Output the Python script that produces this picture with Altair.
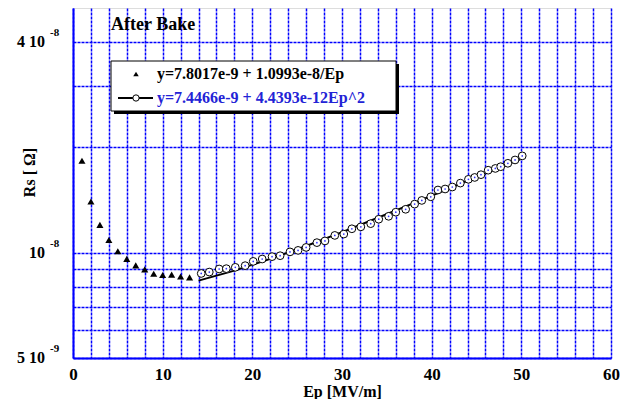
import altair as alt
import pandas as pd

# Measured points (triangles): Rs vs Ep
tri_x = [1, 2, 3, 4, 5, 6, 7, 8, 9, 10, 11, 12, 13]
tri_y = [1.83e-8, 1.40e-8, 1.20e-8, 1.087e-8, 1.009e-8, 9.6e-9, 9.2e-9,
         8.96e-9, 8.7e-9, 8.63e-9, 8.65e-9, 8.55e-9, 8.5e-9]

# Measured points (open circles)
circ_x = [14.3, 15.2, 16.3, 17.1, 18.1, 19.2, 20.1, 21.1, 22.2, 23.1,
          24.2, 25.1, 26.0, 27.2, 28.1, 29.2, 30.2, 31.1, 32.1, 33.2,
          34.1, 35.2, 36.0, 37.1, 38.1, 38.9, 39.9, 40.7, 41.5, 42.3,
          43.2, 44.1, 44.8, 45.5, 46.3, 47.1, 47.7, 48.5, 49.3, 50.1]
circ_y = [8.72e-9, 8.80e-9, 8.98e-9, 9.0e-9, 9.08e-9, 9.18e-9, 9.44e-9, 9.59e-9, 9.74e-9, 9.80e-9,
          1.005e-8, 1.015e-8, 1.035e-8, 1.068e-8, 1.08e-8, 1.12e-8, 1.13e-8, 1.17e-8, 1.185e-8, 1.21e-8,
          1.246e-8, 1.27e-8, 1.305e-8, 1.33e-8, 1.376e-8, 1.41e-8, 1.444e-8, 1.51e-8, 1.52e-8, 1.54e-8,
          1.58e-8, 1.62e-8, 1.64e-8, 1.67e-8, 1.72e-8, 1.74e-8, 1.76e-8, 1.80e-8, 1.84e-8, 1.89e-8]

# Fit curve (solid line)
fit_x = [14, 18, 22, 26, 30, 34, 38, 42, 46, 50]
fit_y = [8.317e-9, 8.885e-9, 9.595e-9, 1.0448e-8, 1.1442e-8,
         1.2578e-8, 1.3857e-8, 1.5278e-8, 1.6840e-8, 1.8545e-8]

# Grid values
x_grid = list(range(0, 61, 2))
y_grid = [5e-9, 6e-9, 7e-9, 8e-9, 9e-9, 1e-8, 2e-8, 3e-8, 4e-8]

# Y tick labels (main part + superscript)
ylab_vals = [4e-8, 1e-8, 5e-9]
ylab_main = ["4 10", "10", "5 10"]
ylab_sup = ["-8", "-8", "-9"]

legend_texts = ["y=7.8017e-9 + 1.0993e-8/Ep", "y=7.4466e-9 + 4.4393e-12Ep^2"]
title_text = "After Bake"

FONT = "Liberation Serif"
BLUE = "#0000ff"
TXTBLUE = "#2323d6"

tri = pd.DataFrame({"x": tri_x, "y": tri_y})
circ = pd.DataFrame({"x": circ_x, "y": circ_y})
fit = pd.DataFrame({"x": fit_x, "y": fit_y})
ylab = pd.DataFrame({"y": ylab_vals, "m": ylab_main, "s": ylab_sup})

xscale = alt.Scale(domain=[0, 60], nice=False)
yscale = alt.Scale(type="log", domain=[5e-9, 5e-8], nice=False)

xax = alt.Axis(
    values=x_grid, tickCount=len(x_grid),
    labelExpr="datum.value % 10 == 0 ? datum.label : ''",
    title="Ep [MV/m]", titleFont=FONT, titleFontSize=16, titleFontWeight="bold",
    titleColor="black", titleBaseline="bottom", titleY=41,
    labelFont=FONT, labelFontSize=17, labelFontWeight="bold", labelColor="black",
    labelPadding=8, ticks=False, grid=True, gridColor=BLUE, gridDash=[3, 1],
    gridWidth=1.5, gridOpacity=1, domainColor=BLUE, domainWidth=2,
    labelFlush=False, labelOverlap=False, labelBound=False,
)
yax = alt.Axis(
    values=y_grid, tickCount=len(y_grid),
    labels=False, ticks=False, grid=True, gridColor=BLUE, gridDash=[3, 1],
    gridWidth=1.5, gridOpacity=1, domainColor=BLUE, domainWidth=2,
    title="Rs [ Ω]", titleFont=FONT, titleFontSize=16, titleFontWeight="bold",
    titleColor="black", titleX=-36, titleY=164, titleAngle=-90,
)

base_tri = alt.Chart(tri).mark_point(
    shape="triangle-up", filled=True, color="black", size=50, opacity=1
).encode(
    x=alt.X("x:Q", scale=xscale, axis=xax),
    y=alt.Y("y:Q", scale=yscale, axis=yax),
)

line = alt.Chart(fit).mark_line(color="black", strokeWidth=2).encode(
    x=alt.X("x:Q", scale=xscale, axis=xax), y=alt.Y("y:Q", scale=yscale, axis=yax)
)

circles = alt.Chart(circ).mark_point(
    shape="circle", filled=False, fill="white", fillOpacity=1, stroke="black",
    strokeWidth=1, size=60, opacity=1
).encode(x=alt.X("x:Q", scale=xscale, axis=xax), y=alt.Y("y:Q", scale=yscale, axis=yax))

dots = alt.Chart(circ).mark_point(
    shape="circle", filled=True, color=BLUE, size=3, opacity=0.8
).encode(x=alt.X("x:Q", scale=xscale, axis=xax), y=alt.Y("y:Q", scale=yscale, axis=yax))

ylab_main_l = alt.Chart(ylab).mark_text(
    font=FONT, fontSize=16, fontWeight="bold", align="right", baseline="middle", color="black"
).encode(x=alt.value(-28), y=alt.Y("y:Q", scale=yscale, axis=yax), text="m:N")

ylab_sup_l = alt.Chart(ylab).mark_text(
    font=FONT, fontSize=11, fontWeight="bold", align="left", baseline="middle", color="black", dy=-9
).encode(x=alt.value(-23), y=alt.Y("y:Q", scale=yscale, axis=yax), text="s:N")

one = pd.DataFrame({"k": [0]})

title_l = alt.Chart(one).mark_text(
    font=FONT, fontSize=18, fontWeight="bold", align="left", baseline="middle", color="black"
).encode(x=alt.value(38), y=alt.value(17), text=alt.value(title_text))

shadow = alt.Chart(one).mark_rect(color="black").encode(
    x=alt.value(41), x2=alt.value(326), y=alt.value(56), y2=alt.value(106)
)
box = alt.Chart(one).mark_rect(fill="white", stroke="black", strokeWidth=1).encode(
    x=alt.value(38), x2=alt.value(323), y=alt.value(53), y2=alt.value(103)
)

leg_tri = alt.Chart(one).mark_point(
    shape="triangle-up", filled=True, color="black", size=30, opacity=1
).encode(x=alt.value(63), y=alt.value(66))
leg_line = alt.Chart(one).mark_rule(color="black", strokeWidth=2).encode(
    x=alt.value(45), x2=alt.value(80), y=alt.value(90)
)
leg_circ = alt.Chart(one).mark_point(
    shape="circle", filled=False, fill="white", fillOpacity=1, stroke="black",
    strokeWidth=1, size=40, opacity=1
).encode(x=alt.value(63), y=alt.value(90))
leg_t1 = alt.Chart(one).mark_text(
    font=FONT, fontSize=16, fontWeight="bold", align="left", baseline="middle", color="black"
).encode(x=alt.value(84), y=alt.value(66), text=alt.value(legend_texts[0]))
leg_t2 = alt.Chart(one).mark_text(
    font=FONT, fontSize=16, fontWeight="bold", align="left", baseline="middle", color=TXTBLUE
).encode(x=alt.value(84), y=alt.value(90), text=alt.value(legend_texts[1]))

chart = alt.layer(
    base_tri, line, circles, dots, ylab_main_l, ylab_sup_l, title_l,
    shadow, box, leg_tri, leg_line, leg_circ, leg_t1, leg_t2
).properties(
    width=538, height=350,
    autosize=alt.AutoSizeParams(type="none"),
    padding={"left": 65, "top": 0, "right": 11, "bottom": 41},
).configure_axis(
    gridColor=BLUE, gridDash=[3, 1], gridOpacity=1, gridWidth=1.5, domainColor=BLUE
).configure_view(
    stroke=BLUE, strokeWidth=2
).configure(background="white")

chart.save("out.html", embed_options={"renderer": "svg", "actions": False})
